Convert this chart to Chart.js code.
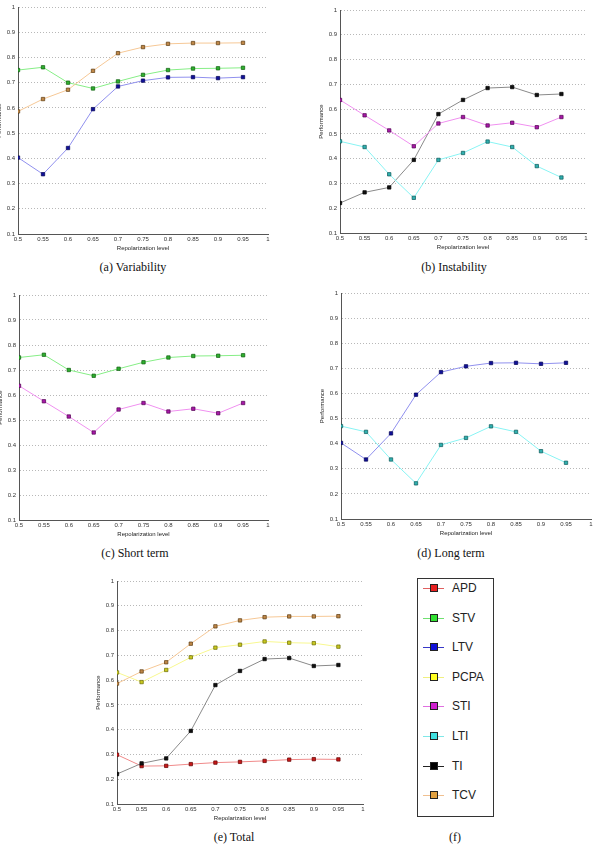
<!DOCTYPE html>
<html>
<head>
<meta charset="utf-8">
<script src="https://cdn.jsdelivr.net/npm/chart.js@4"></script>
<style>
  html, body { margin: 0; padding: 0; background: #fff; }
  body { width: 594px; height: 850px; position: relative; overflow: hidden; }
  .box { position: absolute; }
  .cap { position: absolute; font-family: "Liberation Serif", "DejaVu Serif", serif; font-size: 12px; color: #111; transform: translate(-50%, -50%); white-space: nowrap; }
  #legend { position: absolute; left: 417px; top: 578px; width: 77px; height: 239px; border: 1px solid #333; box-sizing: border-box; }
  .item { position: absolute; left: 5px; height: 14px; font-family: "Liberation Sans", Arial, sans-serif; font-size: 12px; color: #222; }
  .item .ln { position: absolute; left: 0; top: 7px; width: 21px; height: 1px; }
  .item .mk { position: absolute; left: 7px; top: 3px; width: 6px; height: 6px; border: 1px solid #222; }
  .item .tx { position: absolute; left: 29px; top: -1px; line-height: 16px; }
</style>
</head>
<body>

<div class="box" id="wa"><canvas id="ca"></canvas></div>
<div class="box" id="wb"><canvas id="cb"></canvas></div>
<div class="box" id="wc"><canvas id="cc"></canvas></div>
<div class="box" id="wd"><canvas id="cd"></canvas></div>
<div class="box" id="we"><canvas id="ce"></canvas></div>

<div class="cap" style="left:133px; top:267px">(a) Variability</div>
<div class="cap" style="left:454px; top:267px">(b) Instability</div>
<div class="cap" style="left:135px; top:553px">(c) Short term</div>
<div class="cap" style="left:451px; top:553px">(d) Long term</div>
<div class="cap" style="left:234px; top:837px">(e) Total</div>
<div class="cap" style="left:455px; top:837px">(f)</div>

<div id="legend"></div>

<script>
// niveaux de repolarisation (axe x)
const levels = [0.5, 0.55, 0.6, 0.65, 0.7, 0.75, 0.8, 0.85, 0.9, 0.95];

const apd  = [0.299, 0.253, 0.254, 0.261, 0.267, 0.270, 0.274, 0.279, 0.281, 0.280];
const stv  = [0.750, 0.761, 0.700, 0.677, 0.705, 0.731, 0.750, 0.756, 0.757, 0.759];
const ltv  = [0.403, 0.337, 0.441, 0.595, 0.685, 0.708, 0.721, 0.722, 0.718, 0.722];
const pcpa = [0.631, 0.592, 0.641, 0.692, 0.731, 0.743, 0.756, 0.751, 0.749, 0.735];
const sti  = [0.637, 0.575, 0.514, 0.450, 0.542, 0.568, 0.534, 0.545, 0.527, 0.568];
const lti  = [0.470, 0.447, 0.337, 0.242, 0.395, 0.423, 0.469, 0.447, 0.370, 0.324];
const ti   = [0.221, 0.264, 0.284, 0.395, 0.580, 0.637, 0.685, 0.689, 0.657, 0.661];
const tcv  = [0.586, 0.635, 0.672, 0.747, 0.817, 0.841, 0.854, 0.857, 0.857, 0.858];

const yTicks = [0.1, 0.2, 0.3, 0.4, 0.5, 0.6, 0.7, 0.8, 0.9, 1];
const xTicks = [0.5, 0.55, 0.6, 0.65, 0.7, 0.75, 0.8, 0.85, 0.9, 0.95, 1];

// valeurs, couleur de trait, remplissage du marqueur, bord du marqueur, couleurs légende
const series = {
    APD:  { data: apd,  line: '#f08a8a', fill: '#c81818', edge: '#600000', leg: '#e82020', legLine: '#e06060' },
    STV:  { data: stv,  line: '#86ee86', fill: '#2fb02f', edge: '#0c5a0c', leg: '#30e030', legLine: '#70e070' },
    LTV:  { data: ltv,  line: '#9090ee', fill: '#10109a', edge: '#000050', leg: '#1010d8', legLine: '#3838c8' },
    PCPA: { data: pcpa, line: '#f8f890', fill: '#c8c820', edge: '#6a6a00', leg: '#ffff20', legLine: '#f0f080' },
    STI:  { data: sti,  line: '#f090f0', fill: '#a818a8', edge: '#500050', leg: '#d020d0', legLine: '#e070e0' },
    LTI:  { data: lti,  line: '#88f4f4', fill: '#30b0b0', edge: '#0a5858', leg: '#40e0e0', legLine: '#80e8e8' },
    TI:   { data: ti,   line: '#8a8a8a', fill: '#101010', edge: '#000000', leg: '#000000', legLine: '#222222' },
    TCV:  { data: tcv,  line: '#f6c896', fill: '#c08848', edge: '#5a3a10', leg: '#e0a040', legLine: '#f0c090' }
};

const font = "'Liberation Sans', Arial, sans-serif";

function makeChart(id, wrapId, L, T, R, B, names) {
    const padL = 22, padT = 8, padR = 8, axisH = 18;
    const wrap = document.getElementById(wrapId);
    wrap.style.left = (L - padL) + 'px';
    wrap.style.top = (T - padT) + 'px';
    wrap.style.width = ((R - L) + padL + padR) + 'px';
    wrap.style.height = ((B - T) + padT + axisH) + 'px';

    const datasets = names.map(n => {
        const s = series[n];
        return {
            label: n,
            data: levels.map((x, i) => ({ x: x, y: s.data[i] })),
            borderColor: s.line,
            borderWidth: 1,
            backgroundColor: s.fill,
            pointStyle: 'rect',
            pointRadius: 2.4,
            pointBorderWidth: 0.7,
            pointBorderColor: s.edge,
            pointBackgroundColor: s.fill,
            tension: 0
        };
    });

    return new Chart(document.getElementById(id), {
        type: 'line',
        data: { datasets: datasets },
        options: {
            responsive: true,
            maintainAspectRatio: false,
            animation: false,
            layout: { padding: { left: 0, top: padT, right: padR, bottom: 0 } },
            plugins: { legend: { display: false }, tooltip: { enabled: false } },
            scales: {
                x: {
                    type: 'linear',
                    min: 0.5,
                    max: 1,
                    afterBuildTicks: s => { s.ticks = xTicks.map(v => ({ value: v })); },
                    afterFit: s => { s.height = axisH; },
                    grid: { display: false, drawTicks: false },
                    border: { display: true, color: '#555', width: 1 },
                    ticks: {
                        padding: 2,
                        maxRotation: 0,
                        autoSkip: false,
                        color: '#333',
                        font: { family: font, size: 6 },
                        callback: v => String(+v.toFixed(2))
                    },
                    title: { display: true, text: 'Repolarization level', color: '#222', padding: 0, font: { family: font, size: 6 } }
                },
                y: {
                    min: 0.1,
                    max: 1,
                    afterBuildTicks: s => { s.ticks = yTicks.map(v => ({ value: v })); },
                    afterFit: s => { s.width = padL; },
                    grid: { color: '#b8b8b8', lineWidth: 1, drawTicks: false },
                    border: { display: true, color: '#555', width: 1, dash: [1, 2] },
                    ticks: {
                        padding: 3,
                        color: '#333',
                        font: { family: font, size: 6 },
                        callback: v => String(+v.toFixed(1))
                    },
                    title: { display: true, text: 'Performance', color: '#222', padding: 0, font: { family: font, size: 6 } }
                }
            }
        }
    });
}

makeChart('ca', 'wa', 18, 7, 268, 234, ['TCV', 'STV', 'LTV']);
makeChart('cb', 'wb', 340, 10, 586, 233, ['STI', 'LTI', 'TI']);
makeChart('cc', 'wc', 19, 295, 268, 520, ['STV', 'STI']);
makeChart('cd', 'wd', 341, 293, 591, 519, ['LTV', 'LTI']);
makeChart('ce', 'we', 117, 581, 363, 804, ['TCV', 'PCPA', 'TI', 'APD']);

// légende (f)
const legend = document.getElementById('legend');
Object.keys(series).forEach((n, i) => {
    const s = series[n];
    const el = document.createElement('div');
    el.className = 'item';
    el.style.top = (2 + i * 29.6) + 'px';
    el.innerHTML = '<div class="ln" style="background:' + s.legLine + '"></div>' +
        '<div class="mk" style="background:' + s.leg + '"></div>' +
        '<div class="tx">' + n + '</div>';
    legend.appendChild(el);
});
</script>
</body>
</html>
